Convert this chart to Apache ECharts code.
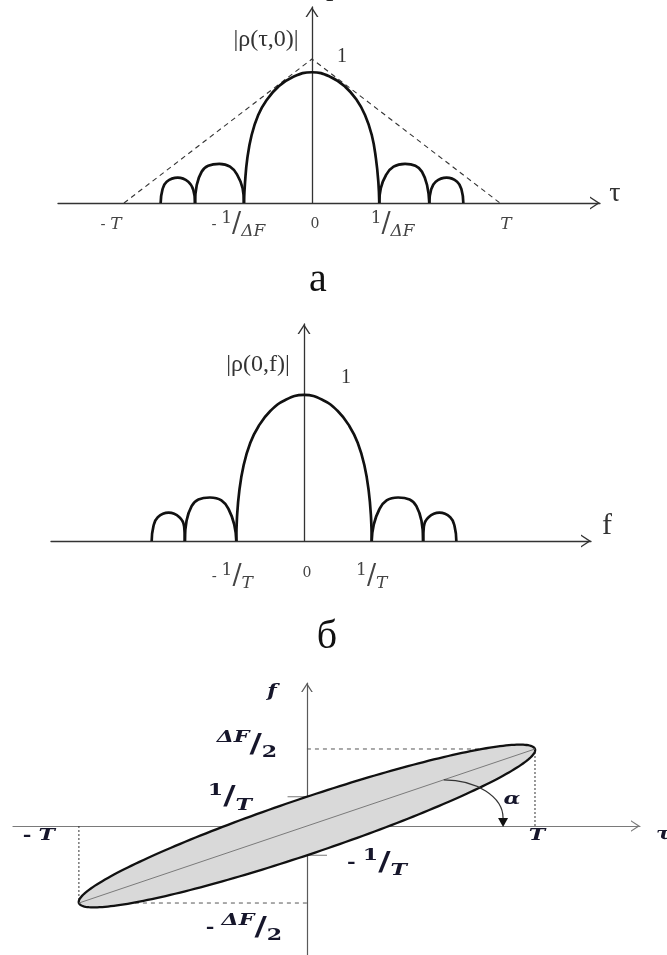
<!DOCTYPE html>
<html>
<head>
<meta charset="utf-8">
<script src="https://cdn.jsdelivr.net/npm/echarts@6/dist/echarts.min.js"></script>
<style>
  html, body { margin: 0; padding: 0; background: #fff; }
  #chart { width: 667px; height: 955px; }
</style>
</head>
<body>
<div id="chart"></div>
<script>
// ---------- Panel а: |ρ(τ,0)|, τ measured in units of T ----------
const tauRange = [-1.351, 1.532];
const rhoTauRange = [0, 1.361];
const tauTicks = [-1, -0.36, 0, 0.36, 1];
const tauTickText = ['- T', '- 1/ΔF', '0', '1/ΔF', 'T'];
const tauEnvelope = [[-1, 0], [0, 1], [1, 0]];
const tauMainLobe = [[-0.362, 0], [-0.356, 0.146], [-0.344, 0.31], [-0.321, 0.472], [-0.286, 0.611],
  [-0.241, 0.715], [-0.179, 0.808], [-0.099, 0.877], [0, 0.908], [0.096, 0.877], [0.176, 0.808],
  [0.238, 0.715], [0.282, 0.611], [0.318, 0.472], [0.34, 0.31], [0.353, 0.146], [0.358, 0]];
const tauLobeL2 = [[-0.805, 0], [-0.796, 0.09], [-0.773, 0.148], [-0.714, 0.176], [-0.658, 0.148], [-0.631, 0.09], [-0.622, 0]];
const tauLobeL1 = [[-0.622, 0], [-0.613, 0.125], [-0.587, 0.217], [-0.552, 0.259], [-0.493, 0.271],
  [-0.436, 0.252], [-0.397, 0.194], [-0.369, 0.102], [-0.362, 0]];
const tauLobeR1 = [[0.358, 0], [0.366, 0.102], [0.394, 0.194], [0.434, 0.252], [0.495, 0.271],
  [0.55, 0.259], [0.585, 0.217], [0.612, 0.125], [0.624, 0]];
const tauLobeR2 = [[0.624, 0], [0.633, 0.09], [0.658, 0.148], [0.716, 0.176], [0.772, 0.148], [0.796, 0.09], [0.805, 0]];

// ---------- Panel б: |ρ(0,f)|, f measured in units of 1/T ----------
const freqRange = [-3.737, 4.239];
const rhoFreqRange = [0, 1.486];
const freqTicks = [-1, 0, 1];
const freqTickText = ['- 1/T', '0', '1/T'];
const freqMainLobe = [[-1.0, 0], [-0.99, 0.161], [-0.956, 0.342], [-0.891, 0.52], [-0.793, 0.673],
  [-0.669, 0.788], [-0.498, 0.89], [-0.276, 0.966], [0, 1], [0.276, 0.966], [0.498, 0.89],
  [0.669, 0.788], [0.793, 0.673], [0.891, 0.52], [0.956, 0.342], [0.99, 0.161], [1.0, 0]];
const freqLobeL2 = [[-2.25, 0], [-2.225, 0.099], [-2.16, 0.163], [-2.0, 0.194], [-1.84, 0.163], [-1.77, 0.099], [-1.76, 0]];
const freqLobeL1 = [[-1.76, 0], [-1.735, 0.138], [-1.66, 0.239], [-1.56, 0.285], [-1.39, 0.298],
  [-1.22, 0.278], [-1.11, 0.214], [-1.03, 0.112], [-1.0, 0]];
const freqLobeR1 = [[1.0, 0], [1.03, 0.112], [1.11, 0.214], [1.22, 0.278], [1.39, 0.298],
  [1.56, 0.285], [1.66, 0.239], [1.735, 0.138], [1.76, 0]];
const freqLobeR2 = [[1.76, 0], [1.77, 0.099], [1.84, 0.163], [2.0, 0.194], [2.16, 0.163], [2.225, 0.099], [2.25, 0]];

// ---------- Panel в: uncertainty ellipse in the (τ, f) plane ----------
// τ in units of T, f in units of ΔF/2
const planeTauRange = [-1.289, 1.4605];
const planeFreqRange = [-1.675, 1.857];
const ellipseTip = [1, 1];        // (T, ΔF/2)
const ellipseCross = 0.38;        // 1/T on the f axis
const upperGuide = [[0, 1], [1, 1]];
const lowerGuide = [[-1, -1], [0, -1]];
const rightDrop = [[1, 0], [1, 1]];
const leftDrop = [[-1, 0], [-1, -1]];
const crossTickUp = [[-0.085, 0.38], [0, 0.38]];
const crossTickDown = [[0, -0.38], [0.088, -0.38]];
const alphaArc = [0.6, 0.6, 0.86, 0]; // from a point on the major axis to the τ axis

// ---------- styling helpers ----------
const CHEVRON = 'path://M0,100 L65,0 L130,100 L114,100 L65,25 L16,100 Z';
const INK = '#16162b';
const GREY_TXT = '#444';

function axisLine(color, width, size) {
  return {
    show: true, onZero: true,
    symbol: ['none', CHEVRON], symbolSize: size, symbolOffset: [0, -size[1] / 2],
    lineStyle: { color: color, width: width }
  };
}
function valueAxis(grid, range, line) {
  return {
    type: 'value', gridIndex: grid, min: range[0], max: range[1],
    axisLine: line, axisTick: { show: false }, axisLabel: { show: false }, splitLine: { show: false }
  };
}
function curve(grid, data, color, width, type, smooth) {
  return {
    type: 'line', xAxisIndex: grid, yAxisIndex: grid, data: data,
    symbol: 'none', showSymbol: false, smooth: smooth,
    lineStyle: { color: color, width: width, type: type }, z: 3, silent: true
  };
}

const tickRich = {
  m: { fontFamily: 'DejaVu Serif', fontSize: 15, lineHeight: 30, fill: GREY_TXT },
  n: { fontFamily: 'DejaVu Serif', fontSize: 17, lineHeight: 19, verticalAlign: 'top', fill: GREY_TXT },
  s: { fontFamily: 'DejaVu Serif', fontSize: 27, lineHeight: 30, fill: GREY_TXT },
  d: { fontFamily: 'DejaVu Serif', fontStyle: 'italic', fontSize: 17, lineHeight: 19, verticalAlign: 'bottom', fill: GREY_TXT },
  i: { fontFamily: 'DejaVu Serif', fontStyle: 'italic', fontSize: 17, lineHeight: 30, fill: GREY_TXT },
  z: { fontFamily: 'DejaVu Serif', fontSize: 14, lineHeight: 20, fill: GREY_TXT }
};
const planeRich = {
  m: { fontFamily: 'DejaVu Serif', fontWeight: 'bold', fontSize: 16, lineHeight: 32, fill: INK },
  n: { fontFamily: 'DejaVu Serif', fontWeight: 'bold', fontSize: 17, lineHeight: 20, verticalAlign: 'top', fill: INK },
  ni: { fontFamily: 'DejaVu Serif', fontWeight: 'bold', fontStyle: 'italic', fontSize: 17, lineHeight: 20, verticalAlign: 'top', fill: INK },
  s: { fontFamily: 'DejaVu Serif', fontWeight: 'bold', fontSize: 26, lineHeight: 32, fill: INK },
  d: { fontFamily: 'DejaVu Serif', fontWeight: 'bold', fontStyle: 'italic', fontSize: 17, lineHeight: 20, verticalAlign: 'bottom', fill: INK },
  dn: { fontFamily: 'DejaVu Serif', fontWeight: 'bold', fontSize: 17, lineHeight: 20, verticalAlign: 'bottom', fill: INK },
  i: { fontFamily: 'DejaVu Serif', fontWeight: 'bold', fontStyle: 'italic', fontSize: 17, lineHeight: 32, fill: INK }
};

// turns "- 1/ΔF" style strings into rich text
function richText(str) {
  let pre = '';
  let body = str;
  if (body.indexOf('- ') === 0) { pre = '{m|- }'; body = body.slice(2); }
  if (body.indexOf('/') >= 0) {
    const parts = body.split('/');
    const numStyle = /\d/.test(parts[0]) ? 'n' : 'ni';
    const denStyle = /\d/.test(parts[1]) ? 'dn' : 'd';
    return pre + '{' + numStyle + '|' + parts[0] + '}{s|/}{' + denStyle + '|' + parts[1] + '}';
  }
  if (/^\d+$/.test(body)) return pre + '{z|' + body + '}';
  return pre + '{i|' + body + '}';
}

function textSeries(grid, items, stretch) {
  return {
    type: 'custom', coordinateSystem: 'cartesian2d', xAxisIndex: grid, yAxisIndex: grid,
    silent: true, clip: false, z: 10,
    data: items.map(function (it) { return it.at; }),
    renderItem: function (params, api) {
      const it = items[params.dataIndex];
      const p = api.coord([api.value(0), api.value(1)]);
      const style = { text: it.text, align: it.align || 'center', verticalAlign: 'middle' };
      if (it.rich) style.rich = it.rich;
      if (it.font) style.font = it.font;
      style.fill = it.fill || INK;
      return { type: 'text', x: p[0] + it.dx, y: p[1] + it.dy, scaleX: stretch || 1, style: style };
    }
  };
}

// ---------- text placement ----------
const tauLabelDx = [-13, -6, 3, 13, 6];
const freqLabelDx = [-4, 3, 0];
const freqLabelDy = [36, 32, 36];

const textsA = tauTicks.map(function (t, i) {
  return { at: [t, 0], text: richText(tauTickText[i]), rich: tickRich, dx: tauLabelDx[i], dy: t === 0 ? 21 : 22 };
}).concat([
  { at: [0, 1], text: '|ρ(τ,0)|', font: '24px "Liberation Serif"', fill: '#333', dx: -46, dy: -19 },
  { at: [0, 1], text: '1', font: '20px "Liberation Serif"', fill: '#333', dx: 30, dy: -2 },
  { at: [tauRange[1], 0], text: 'τ', font: '28px "Liberation Serif"', fill: '#333', dx: 15, dy: -9 },
  { at: [0, 0], text: 'а', font: '40px "Liberation Serif"', fill: '#111', dx: 6, dy: 77 }
]);

const textsB = freqTicks.map(function (t, i) {
  return { at: [t, 0], text: richText(freqTickText[i]), rich: tickRich, dx: freqLabelDx[i], dy: freqLabelDy[i] };
}).concat([
  { at: [0, 1], text: '|ρ(0,f)|', font: '24px "Liberation Serif"', fill: '#333', dx: -46, dy: -30 },
  { at: [0, 1], text: '1', font: '20px "Liberation Serif"', fill: '#333', dx: 42, dy: -17 },
  { at: [freqRange[1], 0], text: 'f', font: '30px "Liberation Serif"', fill: '#333', dx: 16, dy: -15 },
  { at: [0, 0], text: 'б', font: '40px "Liberation Serif"', fill: '#111', dx: 23, dy: 96 }
]);

const textsC = [
  { at: [0, 0], text: '{i|f}', rich: planeRich, dx: -35, dy: -134 },
  { at: [0, 1], text: richText('ΔF/2'), rich: planeRich, dx: -60, dy: -4 },
  { at: [0, ellipseCross], text: richText('1/T'), rich: planeRich, dx: -77, dy: 1 },
  { at: [-1, 0], text: richText('- T'), rich: planeRich, dx: -40, dy: 10 },
  { at: [1, 0], text: richText('T'), rich: planeRich, dx: 2, dy: 10 },
  { at: [0, -ellipseCross], text: richText('- 1/T'), rich: planeRich, dx: 70, dy: 8 },
  { at: [0, -1], text: richText('- ΔF/2'), rich: planeRich, dx: -63, dy: 25 },
  { at: [alphaArc[2], 0], text: '{i|α}', rich: planeRich, dx: 9, dy: -26 },
  { at: [planeTauRange[1], 0], text: '{i|τ}', rich: planeRich, dx: 16, dy: 9, align: 'left' }
];

// ---------- ellipse and angle marks ----------
const ellipseSeries = {
  type: 'custom', coordinateSystem: 'cartesian2d', xAxisIndex: 2, yAxisIndex: 2,
  silent: true, clip: false, z: 4,
  data: [[ellipseTip[0], ellipseTip[1], ellipseCross]],
  renderItem: function (params, api) {
    const c = api.coord([0, 0]);
    const tip = api.coord([api.value(0), api.value(1)]);
    const cross = api.coord([0, api.value(2)]);
    const ax = tip[0] - c[0], ay = tip[1] - c[1];
    const a = Math.hypot(ax, ay), th = Math.atan2(ay, ax);
    const h = Math.abs(cross[1] - c[1]);
    const sn = Math.sin(th), cs = Math.cos(th);
    const b = Math.abs(cs) / Math.sqrt(1 / (h * h) - (sn * sn) / (a * a));
    const pts = [];
    for (let k = 0; k < 240; k++) {
      const t = (k / 240) * 2 * Math.PI;
      const u = a * Math.cos(t), v = b * Math.sin(t);
      pts.push([c[0] + u * cs - v * sn, c[1] + u * sn + v * cs]);
    }
    return {
      type: 'group',
      children: [
        { type: 'polygon', shape: { points: pts }, style: { fill: '#d9d9d9', stroke: '#111', lineWidth: 2.3 } },
        { type: 'line', shape: { x1: c[0] - ax, y1: c[1] - ay, x2: tip[0], y2: tip[1] }, style: { stroke: '#7a7a7a', lineWidth: 1 } }
      ]
    };
  }
};

const alphaSeries = {
  type: 'custom', coordinateSystem: 'cartesian2d', xAxisIndex: 2, yAxisIndex: 2,
  silent: true, clip: false, z: 6,
  data: [alphaArc],
  renderItem: function (params, api) {
    const s = api.coord([api.value(0), api.value(1)]);
    const e = api.coord([api.value(2), api.value(3)]);
    const head = 8;
    const endY = e[1] - head;
    const rx = e[0] - s[0], ry = endY - s[1];
    const k = 0.5523;
    return {
      type: 'group',
      children: [
        { type: 'bezierCurve',
          shape: { x1: s[0], y1: s[1], cpx1: s[0] + k * rx, cpy1: s[1], cpx2: e[0], cpy2: endY - k * ry, x2: e[0], y2: endY },
          style: { stroke: '#333', lineWidth: 1.2, fill: null } },
        { type: 'polygon', shape: { points: [[e[0] - 5, endY], [e[0] + 5, endY], [e[0], e[1] + 1]] }, style: { fill: '#111' } }
      ]
    };
  }
};

const LOBE = '#111';
const LOBE_W = 2.7;
const SMOOTH = 0.45;

const option = {
  animation: false,
  backgroundColor: '#fff',
  grid: [
    { left: 58, top: 7, width: 542, height: 196, outerBoundsMode: 'none' },
    { left: 51, top: 324, width: 540, height: 217, outerBoundsMode: 'none' },
    { left: 13, top: 683, width: 627, height: 272, outerBoundsMode: 'none' }
  ],
  xAxis: [
    valueAxis(0, tauRange, axisLine('#333', 1.3, [13, 10])),
    valueAxis(1, freqRange, axisLine('#333', 1.3, [13, 10])),
    valueAxis(2, planeTauRange, axisLine('#7a7a7a', 1.2, [14, 9]))
  ],
  yAxis: [
    valueAxis(0, rhoTauRange, axisLine('#333', 1.3, [13, 10])),
    valueAxis(1, rhoFreqRange, axisLine('#333', 1.3, [13, 10])),
    valueAxis(2, planeFreqRange, axisLine('#5a5a5a', 1.2, [14, 9]))
  ],
  graphic: [
    { type: 'text', left: 326, top: -28, silent: true,
      style: { text: 'р', font: '30px "Liberation Serif"', fill: '#222' } }
  ],
  series: [
    curve(0, tauEnvelope, '#333', 1.1, [5, 4], false),
    curve(0, tauMainLobe, LOBE, LOBE_W, 'solid', SMOOTH),
    curve(0, tauLobeL1, LOBE, LOBE_W, 'solid', SMOOTH),
    curve(0, tauLobeL2, LOBE, LOBE_W, 'solid', SMOOTH),
    curve(0, tauLobeR1, LOBE, LOBE_W, 'solid', SMOOTH),
    curve(0, tauLobeR2, LOBE, LOBE_W, 'solid', SMOOTH),
    textSeries(0, textsA),

    curve(1, freqMainLobe, LOBE, LOBE_W, 'solid', SMOOTH),
    curve(1, freqLobeL1, LOBE, LOBE_W, 'solid', SMOOTH),
    curve(1, freqLobeL2, LOBE, LOBE_W, 'solid', SMOOTH),
    curve(1, freqLobeR1, LOBE, LOBE_W, 'solid', SMOOTH),
    curve(1, freqLobeR2, LOBE, LOBE_W, 'solid', SMOOTH),
    textSeries(1, textsB),

    curve(2, upperGuide, '#555', 1, [4, 4], false),
    curve(2, lowerGuide, '#555', 1, [4, 4], false),
    curve(2, rightDrop, '#333', 1, [2, 2], false),
    curve(2, leftDrop, '#333', 1, [2, 2], false),
    curve(2, crossTickUp, '#777', 1.2, 'solid', false),
    curve(2, crossTickDown, '#777', 1.2, 'solid', false),
    ellipseSeries,
    alphaSeries,
    textSeries(2, textsC, 1.3)
  ]
};

const chart = echarts.init(document.getElementById('chart'), null, { renderer: 'canvas' });
chart.setOption(option);
</script>
</body>
</html>
